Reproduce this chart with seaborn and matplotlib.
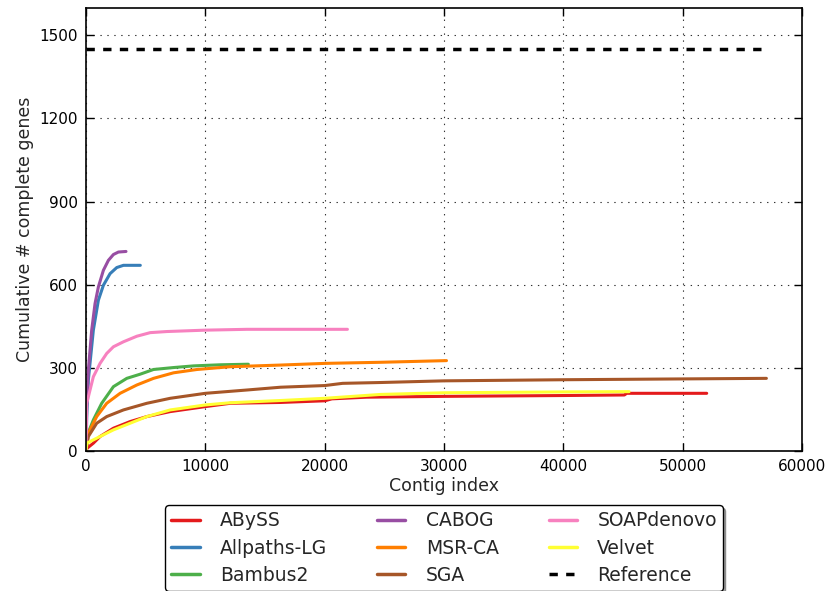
import numpy as np
import pandas as pd
import matplotlib
matplotlib.use("Agg")
import matplotlib.pyplot as plt
import seaborn as sns
from matplotlib.lines import Line2D

# ---- data ----
abyss_x = [0, 100, 616, 1176, 2296, 3696, 5096, 7056, 10000, 12100, 16300, 20000, 20600, 23500, 30000, 40000, 45100, 45300, 52000]
abyss_y = [0, 10, 28, 52, 82, 106, 124, 142, 160, 172, 175, 181, 188, 194, 197, 200, 202, 208, 208]

allpaths_x = [0, 60, 196, 616, 1036, 1456, 2016, 2576, 3136, 4550]
allpaths_y = [0, 120, 256, 436, 544, 598, 640, 662, 670, 670]

bambus_x = [0, 60, 616, 1316, 2296, 3416, 4536, 5656, 7336, 9016, 11256, 13600]
bambus_y = [0, 52, 112, 172, 232, 262, 277, 294, 301, 307, 311, 313]

cabog_x = [0, 40, 196, 476, 756, 1036, 1456, 1876, 2296, 2716, 3350]
cabog_y = [0, 150, 292, 436, 532, 592, 652, 688, 709, 718, 720]

msrca_x = [0, 196, 896, 1736, 2856, 4256, 5656, 7336, 9296, 12096, 16296, 20000, 24700, 30200]
msrca_y = [0, 64, 124, 172, 208, 238, 262, 282, 294, 304, 310, 316, 320, 326]

sga_x = [0, 196, 896, 1736, 3136, 5096, 7056, 10000, 13500, 16300, 20000, 21500, 24700, 30000, 40000, 50000, 57000]
sga_y = [0, 52, 100, 124, 148, 172, 190, 208, 220, 230, 236, 244, 247, 253, 257, 260, 262]

soap_x = [0, 60, 616, 1176, 1736, 2296, 3136, 4256, 5376, 6776, 10000, 13500, 21900]
soap_y = [0, 172, 268, 316, 352, 376, 394, 414, 427, 431, 436, 439, 439]

velvet_x = [0, 60, 1176, 2296, 3696, 5096, 7056, 10000, 12100, 16300, 20000, 24700, 30000, 40000, 45500]
velvet_y = [0, 28, 52, 76, 100, 124, 148, 166, 174, 182, 190, 204, 210, 213, 214]

ref_x = [0, 57000]
ref_genes = 1450

assemblers = ["ABySS", "Allpaths-LG", "Bambus2", "CABOG", "MSR-CA", "SGA", "SOAPdenovo", "Velvet"]
series = {
    "ABySS": (abyss_x, abyss_y),
    "Allpaths-LG": (allpaths_x, allpaths_y),
    "Bambus2": (bambus_x, bambus_y),
    "CABOG": (cabog_x, cabog_y),
    "MSR-CA": (msrca_x, msrca_y),
    "SGA": (sga_x, sga_y),
    "SOAPdenovo": (soap_x, soap_y),
    "Velvet": (velvet_x, velvet_y),
}
colors = {
    "ABySS": "#e41a1c", "Allpaths-LG": "#377eb8", "Bambus2": "#4daf4a",
    "CABOG": "#984ea3", "MSR-CA": "#ff7f00", "SGA": "#a65628",
    "SOAPdenovo": "#f781bf", "Velvet": "#ffff33",
}

rows = []
for name in assemblers:
    xs, ys = series[name]
    for xv, yv in zip(xs, ys):
        rows.append({"assembler": name, "contig": xv, "genes": yv})
df = pd.DataFrame(rows)

# ---- style ----
sns.set_style("ticks")
plt.rcParams["font.family"] = ["DejaVu Sans"]
plt.rcParams["lines.scale_dashes"] = False
plt.rcParams["xtick.direction"] = "in"
plt.rcParams["ytick.direction"] = "in"

fig = plt.figure(figsize=(8.27, 5.91), dpi=100)
ax = fig.add_axes([0.104, 0.237, 0.866, 0.750])

sns.lineplot(data=df, x="contig", y="genes", hue="assembler", hue_order=assemblers,
             palette=colors, estimator=None, sort=False, linewidth=2.2,
             legend=False, ax=ax)
ax.plot(ref_x, [ref_genes, ref_genes], color="black", linewidth=2.5,
        dashes=(6, 6), label="Reference")

ax.set_xlim(0, 60000)
ax.set_ylim(0, 1600)
ax.set_xticks(np.arange(0, 60001, 10000))
ax.set_yticks(np.arange(0, 1501, 300))
ax.grid(True, color="black", linestyle=(0, (1, 4)), linewidth=0.8, alpha=0.8)
ax.tick_params(axis="both", which="both", direction="in", top=True, right=True,
               length=6, width=1, labelsize=11, colors="black", pad=6)
for s in ax.spines.values():
    s.set_color("black")
    s.set_linewidth(1.2)
ax.set_xlabel("Contig index", fontsize=12.5, labelpad=2)
ax.set_ylabel("Cumulative # complete genes", fontsize=12.5, labelpad=4)

handles = [Line2D([0], [0], color=colors[n], linewidth=2.5) for n in assemblers]
handles.append(Line2D([0], [0], color="black", linewidth=2.5, dashes=(6, 6)))
labels = assemblers + ["Reference"]
leg = ax.legend(handles, labels, loc="upper center", bbox_to_anchor=(0.5, -0.1015),
                ncol=3, fontsize=13.5, frameon=True, shadow=True, fancybox=True,
                handlelength=1.5, columnspacing=2.65, handletextpad=1.1,
                borderpad=0.32, labelspacing=0.44)
leg.get_frame().set_edgecolor("black")
leg.get_frame().set_linewidth(1.0)
leg.get_frame().set_alpha(1)

fig.savefig("out.png", dpi=100)
